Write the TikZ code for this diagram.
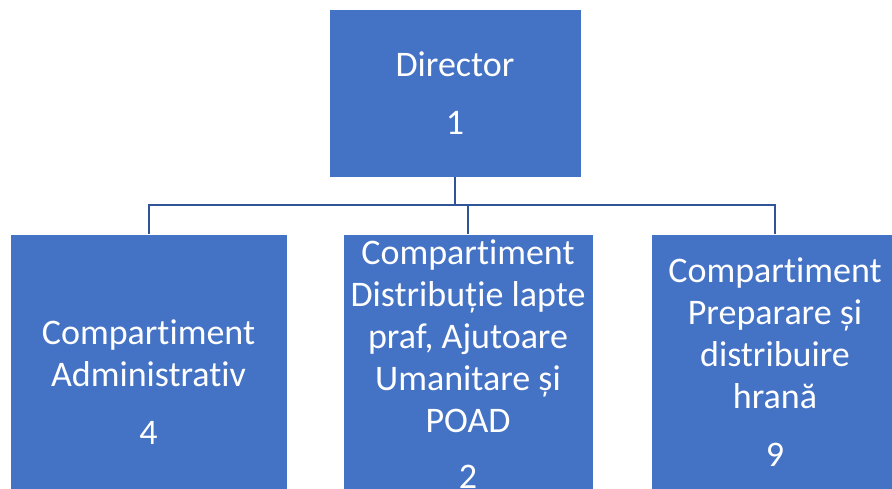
\documentclass[tikz,border=0pt]{standalone}
\usepackage{fontspec}
\setmainfont[Ligatures=NoCommon]{Carlito}
\usetikzlibrary{positioning}
\definecolor{unitblue}{HTML}{4472C4}
\definecolor{linkblue}{HTML}{2F5597}

\begin{document}
\begin{tikzpicture}
    [unit/.style={rectangle,draw=white,fill=unitblue,line width=0.4pt,
    inner sep=0pt,outer sep=0pt,text=white,align=center,
    font=\fontsize{18}{21}\selectfont},
    link/.style={draw=linkblue,line width=1pt}]
    \useasboundingbox (0,0) rectangle (446pt,-244pt);
    \clip (0,0) rectangle (446pt,-244pt);
    \node[unit,minimum width=126pt,minimum height=84pt] (director) at (227.5pt,-46.5pt) {Director\\[8pt]1};
    \node[unit,minimum width=125pt,minimum height=130pt] (distributie) [below=28.5pt of director,xshift=6.5pt] {Compartiment\\Distribuție lapte\\praf, Ajutoare\\Umanitare și\\POAD\\[7pt]2};
    \node[unit,minimum width=138.5pt,minimum height=148.5pt] (administrativ) [below left=0pt and 28pt of distributie.north west] {Compartiment\\Administrativ\\[8pt]4};
    \node[unit,minimum width=124pt,minimum height=128pt] (hrana) [below right=0pt and 29pt of distributie.north east] {Compartiment\\Preparare și\\distribuire\\hrană\\[8pt]9};
    \draw[link] (director.south) -- ++(0,-14pt) -| (administrativ.north);
    \draw[link] (director.south) -- ++(0,-14pt) -| (distributie.north);
    \draw[link] (director.south) -- ++(0,-14pt) -| (hrana.north);
\end{tikzpicture}
\end{document}
